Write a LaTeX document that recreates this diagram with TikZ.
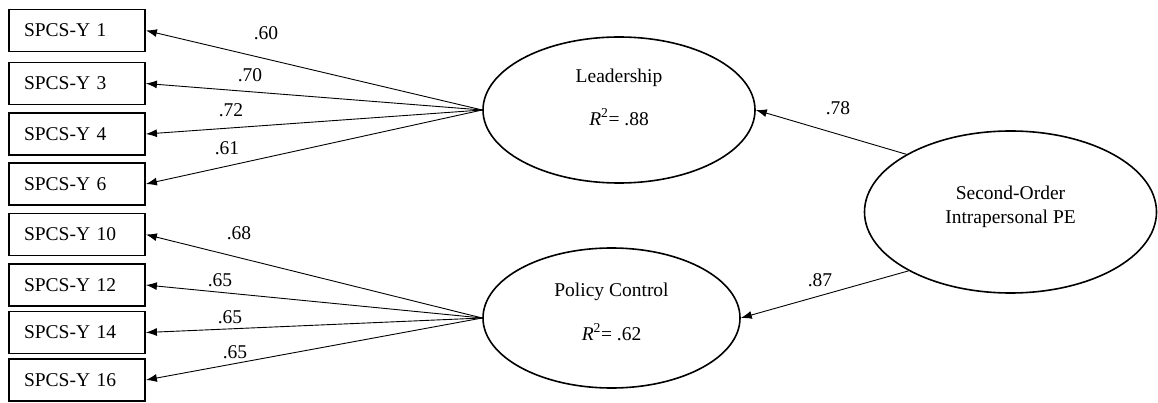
\documentclass[tikz,border=0pt]{standalone}
\usepackage{fontspec}
\setmainfont{Liberation Serif}
\usetikzlibrary{shapes.geometric,arrows.meta}
\begin{document}
\begin{tikzpicture}[x=1pt,y=-1pt,
  obs/.style={draw,line width=1.8pt,minimum width=136pt,minimum height=42pt,inner sep=0pt,font=\fontsize{19.5}{22}\selectfont,align=left,text width=106pt},
  lat/.style={draw,ellipse,line width=1.6pt,inner sep=0pt},
  load/.style={-{Latex[length=11pt,width=8pt]},line width=0.9pt},
  lbl/.style={font=\fontsize{19.5}{22}\selectfont,inner sep=0pt}]
\useasboundingbox (0,0) rectangle (1158,403);
\node[obs] (b1) at (77,30.5) {SPCS-Y 1};
\node[obs] (b2) at (77,83.5) {SPCS-Y 3};
\node[obs] (b3) at (77,134) {SPCS-Y 4};
\node[obs] (b4) at (77,184) {SPCS-Y 6};
\node[obs] (b5) at (77,234.5) {SPCS-Y 10};
\node[obs] (b6) at (77,285) {SPCS-Y 12};
\node[obs] (b7) at (77,332.5) {SPCS-Y 14};
\node[obs] (b8) at (77,380) {SPCS-Y 16};
\node[lat,minimum width=272pt,minimum height=146pt] (lead) at (619,110) {};
\node[lbl] (leadt) at (619,78) {Leadership};
\node[lbl] (leadr) at (619,117) {\textit{R}\textsuperscript{2}= .88};
\node[lat,minimum width=257pt,minimum height=140pt] (pol) at (611.5,318) {};
\node[lbl] (polt) at (611.5,292) {Policy Control};
\node[lbl] (polr) at (611.5,332) {\textit{R}\textsuperscript{2}= .62};
\node[lat,minimum width=292pt,minimum height=162pt] (sec) at (1010.5,212) {};
\node[lbl] (sect1) at (1010.5,193) {Second-Order};
\node[lbl] (sect2) at (1010.5,219) {Intrapersonal PE};
\foreach \b/\l/\x/\y in {b1/.60/266/33,b2/.70/250/75,b3/.72/231/110,b4/.61/227/148}{
  \draw[load] (lead.west) -- (\b.east);
  \node[lbl] at (\x,\y) {\l};
}
\foreach \b/\l/\x/\y in {b5/.68/239/233,b6/.65/220/280,b7/.65/230/317,b8/.65/235/352}{
  \draw[load] (pol.west) -- (\b.east);
  \node[lbl] at (\x,\y) {\l};
}
\draw[load] (sec.151) -- (lead.east);
\draw[load] (sec.210) -- (pol.east);
\node[lbl] (l78) at (838,108) {.78};
\node[lbl] (l87) at (820,280) {.87};
\end{tikzpicture}
\end{document}
